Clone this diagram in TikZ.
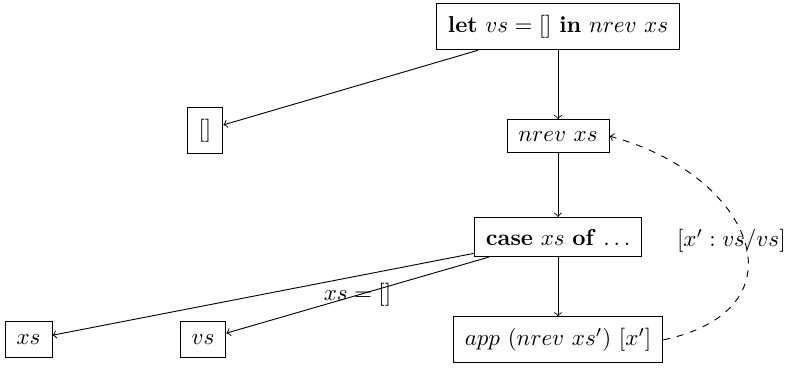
\documentclass[tikz,border=0pt]{standalone}
\usepackage{amsmath}

\tikzset{caixa/.style={draw, inner sep=5pt}}

\begin{document}
\begin{tikzpicture}

		\useasboundingbox (0., 0.) rectangle (12., 5.649);

		% Nos

		\draw node[caixa] (no1) at (8.52, 5.24) {\textbf{let} $vs = []$ \textbf{in} $nrev\ xs$} ;

		\draw node[caixa] (no2) at (3.13, 3.66) {$[]$} ;

		\draw node[caixa] (no3) at (8.52, 3.57) {$nrev\ xs$} ;

		\draw node[caixa] (no4) at (8.52, 2.03) {\textbf{case} $xs$ \textbf{of} $\ldots$} ;

		\draw node[caixa, minimum height=0.55cm] (no5) at (0.435, 0.46) {$xs$} ;

		\draw node[caixa, minimum height=0.55cm] (no6) at (3.10, 0.46) {$vs$} ;

		\draw node[caixa] (no7) at (8.52, 0.46) {$app\ (nrev\ xs')\ [x']$} ;

		% Arestas

		\draw[->] (no1) -- (no2);

		\draw[->] (no1) -- (no3);

		\draw[->] (no3) -- (no4);

		\draw[->] (no4) -- (no5);

		\draw[->] (no4) -- node {$xs = []$} (no6);

		\draw[->] (no4) -- (no7);

		\draw[->, dashed] (no7.east) to[out=12, in=-15, looseness=1.8] node[xshift=-0.2cm] {$[x' : vs/vs]$} (no3.east);

\end{tikzpicture}
\end{document}
